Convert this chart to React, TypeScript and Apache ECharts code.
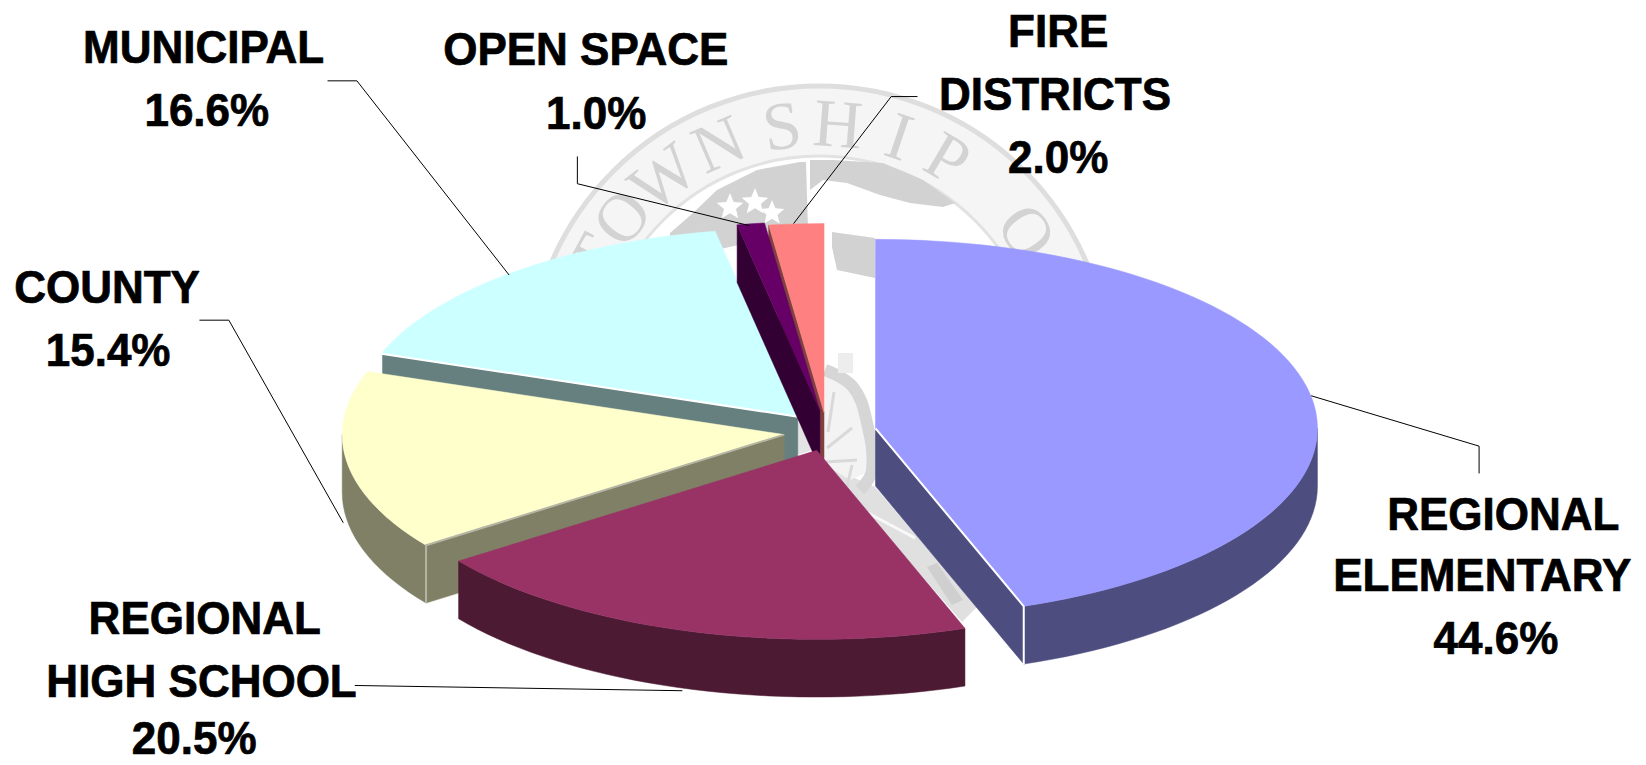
import React, { useEffect, useRef } from "react";
import * as echarts from "echarts";

const names = ["REGIONAL ELEMENTARY", "REGIONAL HIGH SCHOOL", "COUNTY", "MUNICIPAL", "OPEN SPACE", "FIRE DISTRICTS"];
const shares = [44.6, 20.5, 15.4, 16.6, 1.0, 2.0];
const nameLines = [["REGIONAL", "ELEMENTARY"], ["REGIONAL", "HIGH SCHOOL"], ["COUNTY"], ["MUNICIPAL"], ["OPEN SPACE"], ["FIRE", "DISTRICTS"]];

// Styling and layout (in the 1568-wide sketch space, scaled by S)
const S = 1646 / 1568;
const RX = 421, RY = 180, DEPTH = 55;
const topColors = ["#9999FF", "#993366", "#FFFFCC", "#CCFFFF", "#660066", "#FF8080"];
const sideColors = ["#4D4D80", "#4D1A33", "#808066", "#668080", "#330033", "#804040"];
const edgeColors = ["#FFFFFF", null, "#B5B5A5", "#FFFFFF", null, null];
const apexes = [[834, 408], [778, 429], [747, 414], [760, 397], [781, 391], [785, 393]];
const drawRank = [5, 4, 3, 0, 2, 1];
const labelPos = [
  [[1432, 490], [1412, 548], [1425, 608]],
  [[195, 589], [192, 649], [185, 703]],
  [[102, 273], [103, 333]],
  [[194, 45], [197, 105]],
  [[558, 47], [568, 108]],
  [[1008, 30], [1005, 90], [1008, 150]],
];
const leaders = [
  [[1409, 451], [1409, 425], [1249, 377]],
  [[338, 653], [650, 658]],
  [[190, 305], [218, 305], [327, 498]],
  [[312, 77], [340, 77], [485, 262]],
  [[550, 149], [550, 175], [714, 215]],
  [[874, 92], [849, 92], [756, 213]],
];

const sc = (p: number[]) => [p[0] * S, p[1] * S];

const total = shares.reduce((a, b) => a + b, 0);
const startAngles: number[] = [];
shares.reduce((acc, v, i) => {
  startAngles[i] = acc;
  return acc + (v / total) * 360;
}, 0);

const pt = (apex: number[], deg: number, dy = 0) => {
  const r = (deg * Math.PI) / 180;
  return [apex[0] + RX * Math.sin(r), apex[1] - RY * Math.cos(r) + dy];
};
const arc = (apex: number[], a: number, b: number, dy = 0) => {
  const out: number[][] = [];
  const n = Math.max(2, Math.ceil((b - a) / 2));
  for (let i = 0; i <= n; i++) out.push(pt(apex, a + ((b - a) * i) / n, dy));
  return out;
};

function renderSlice(params: any, api: any) {
  const i = params.dataIndex;
  const value = api.value(0);
  const a = startAngles[i];
  const b = a + (value / total) * 360;
  const apex = apexes[i];
  const z = drawRank[i] * 10 + 10;
  const children: any[] = [];
  const poly = (pts: number[][], fill: string, z2: number) => ({
    type: "polygon",
    z2,
    shape: { points: pts.map(sc) },
    style: { fill, stroke: fill, lineWidth: 0.5 },
    silent: true,
  });
  const lower = (p: number[]) => [p[0], p[1] + DEPTH];

  const showStart = a > 180 && a < 360;
  const showEnd = b > 0 && b < 180;
  if (showStart) {
    const e = pt(apex, a);
    children.push(poly([apex, e, lower(e), lower(apex)], sideColors[i], z));
  }
  if (showEnd) {
    const e = pt(apex, b);
    children.push(poly([apex, e, lower(e), lower(apex)], sideColors[i], z));
  }
  const sa = Math.max(a, 90);
  const sb = Math.min(b, 270);
  if (sb > sa) {
    const up = arc(apex, sa, sb);
    const dn = arc(apex, sa, sb, DEPTH).reverse();
    children.push(poly([...up, ...dn], sideColors[i], z + 1));
  }
  children.push(poly([apex, ...arc(apex, a, b)], topColors[i], z + 2));
  if (edgeColors[i]) {
    const edgeAngle = showStart ? a : b;
    const e = pt(apex, edgeAngle);
    children.push({
      type: "polyline",
      z2: z + 3,
      shape: { points: [apex, e, lower(e)].map(sc) },
      style: { fill: "none", stroke: edgeColors[i], lineWidth: 2 },
      silent: true,
    });
  }
  children.push({
    type: "polyline",
    z2: 200,
    shape: { points: leaders[i].map(sc) },
    style: { fill: "none", stroke: "#000", lineWidth: 1 },
    silent: true,
  });
  const lines = [...nameLines[i], value.toFixed(1) + "%"];
  lines.forEach((t, k) => {
    const p = sc(labelPos[i][k]);
    children.push({
      type: "text",
      z2: 210,
      x: p[0],
      y: p[1],
      scaleY: 1.06,
      style: {
        text: t,
        fill: "#000",
        stroke: "#000",
        lineWidth: 0.7,
        fontFamily: "'Liberation Sans', Arial, sans-serif",
        fontWeight: "bold",
        fontSize: 44,
        align: "center",
        verticalAlign: "middle",
      },
      silent: true,
    });
  });
  return { type: "group", children };
}

// Watermark seal behind the pie, in page pixels
const SEAL = [819, 377];
const sealLetters: [string, number][] = [
  ["T", -62], ["O", -51], ["W", -38], ["N", -23.3], ["S", -8.4], ["H", 4.3], ["I", 18.5], ["P", 30.5], ["O", 55],
];
const star = (cx: number, cy: number, r: number) => {
  const pts: number[][] = [];
  for (let i = 0; i < 10; i++) {
    const rr = i % 2 ? r * 0.45 : r;
    const t = (-90 + i * 36) * (Math.PI / 180);
    pts.push([cx + rr * Math.cos(t), cy + rr * Math.sin(t)]);
  }
  return pts;
};
const bandLeft = [[670, 233], [693, 213], [717, 190], [757, 170], [800, 162], [806, 162], [808, 230], [670, 260]];
const bandRight = [[810, 160], [833, 160], [883, 163], [923, 180], [955, 203], [943, 207], [910, 203], [880, 195], [847, 183], [823, 180], [810, 190]];
const bandLower = [[832, 232], [875, 238], [875, 278], [837, 270], [832, 247]];
const gapBand = [[825, 465], [875, 487], [977, 607], [962, 622]];
const gapLetter = [[927, 567], [937, 563], [963, 600], [952, 605]];
const gapLeft = [[797, 420], [813, 450], [797, 455]];
const wheelFill = [[825, 372], [853, 390], [867, 425], [872, 470], [850, 480], [825, 465]];
const wheelRim = [[825, 370], [853, 387], [867, 423], [872, 470], [860, 490]];
const spokes = [
  [[827, 448], [852, 428]],
  [[825, 462], [857, 460]],
  [[852, 465], [847, 487]],
  [[834, 392], [828, 432]],
  [[868, 513], [915, 538]],
];
const GRAY = "#D2D2D2";

function sealElements() {
  const els: any[] = [];
  const halfArc = (r: number, w: number, col: string) => ({
    type: "arc",
    z: 0,
    shape: { cx: SEAL[0], cy: SEAL[1], r, startAngle: Math.PI, endAngle: 2 * Math.PI, clockwise: true },
    style: { fill: "none", stroke: col, lineWidth: w },
    silent: true,
  });
  els.push(halfArc(256, 70, "#F5F5F5"));
  els.push(halfArc(291, 5, "#DEDEDE"));
  els.push(halfArc(221, 3, "#E2E2E2"));
  const fillPoly = (pts: number[][], fill: string) => ({
    type: "polygon",
    z: 0,
    shape: { points: pts },
    style: { fill },
    silent: true,
  });
  els.push(fillPoly(bandLeft, GRAY));
  els.push(fillPoly(bandRight, GRAY));
  els.push(fillPoly(bandLower, GRAY));
  els.push(fillPoly(star(730, 207, 14), "#FFFFFF"));
  els.push(fillPoly(star(755, 202, 14), "#FFFFFF"));
  els.push(fillPoly(star(772, 213, 13), "#FFFFFF"));
  els.push(fillPoly(gapBand, "#E0E0E0"));
  els.push(fillPoly(gapLetter, "#CFCFCF"));
  els.push(fillPoly(gapLeft, "#E4E4E4"));
  els.push(fillPoly(wheelFill, "#F3F3F3"));
  els.push({
    type: "polyline",
    z: 0,
    shape: { points: wheelRim, smooth: 0.4 },
    style: { fill: "none", stroke: "#D6D6D6", lineWidth: 12 },
    silent: true,
  });
  spokes.forEach((s, k) => {
    els.push({
      type: "line",
      z: 0,
      shape: { x1: s[0][0], y1: s[0][1], x2: s[1][0], y2: s[1][1] },
      style: { stroke: k === 4 ? "#F8F8F8" : "#D9D9D9", lineWidth: 3 },
      silent: true,
    });
  });
  els.push({
    type: "rect",
    z: 0,
    shape: { x: 838, y: 353, width: 15, height: 20 },
    style: { fill: "#EDEDED" },
    silent: true,
  });
  sealLetters.forEach(([ch, deg]) => {
    const r = (deg * Math.PI) / 180;
    const rad = 254;
    els.push({
      type: "text",
      z: 0,
      x: SEAL[0] + rad * Math.sin(r),
      y: SEAL[1] - rad * Math.cos(r),
      rotation: -r,
      style: {
        text: ch,
        fill: "#D3D3D3",
        fontFamily: "'Liberation Serif', serif",
        fontSize: 68,
        align: "center",
        verticalAlign: "middle",
      },
      silent: true,
    });
  });
  return els;
}

export default function App() {
  const ref = useRef<HTMLDivElement>(null);
  useEffect(() => {
    const chart = echarts.init(ref.current!, undefined, { renderer: "svg" });
    chart.setOption({
      animation: false,
      backgroundColor: "#FFFFFF",
      graphic: { elements: sealElements() },
      series: [
        {
          type: "custom",
          coordinateSystem: "none",
          z: 5,
          clip: false,
          silent: true,
          renderItem: renderSlice,
          data: shares.map((v, i) => ({ name: names[i], value: [v] })),
        },
      ],
    });
    return () => chart.dispose();
  }, []);
  return <div ref={ref} style={{ position: "fixed", left: 0, top: 0, width: 1646, height: 765 }} />;
}
